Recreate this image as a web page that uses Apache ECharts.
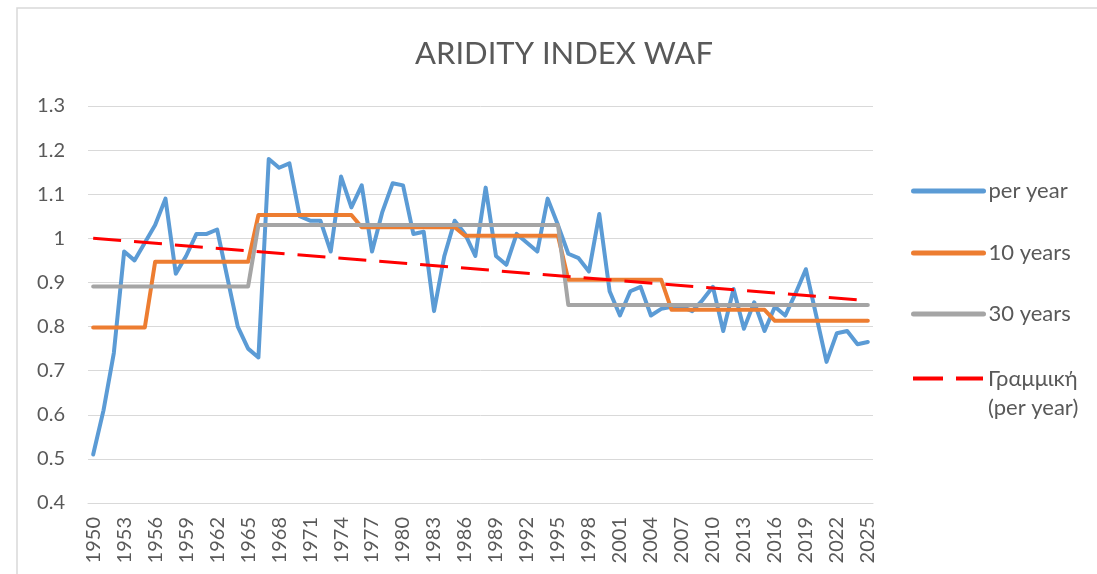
<!DOCTYPE html>
<html>
<head>
<meta charset="utf-8">
<script src="https://cdn.jsdelivr.net/npm/echarts@6/dist/echarts.min.js"></script>
<style>
  html, body { margin: 0; padding: 0; background: #fff; }
  #chart { width: 1097px; height: 574px; }
</style>
</head>
<body>
<div id="chart"></div>
<script>
// years on the category axis
const years = [
  1950, 1951, 1952, 1953, 1954, 1955, 1956, 1957, 1958, 1959,
  1960, 1961, 1962, 1963, 1964, 1965, 1966, 1967, 1968, 1969,
  1970, 1971, 1972, 1973, 1974, 1975, 1976, 1977, 1978, 1979,
  1980, 1981, 1982, 1983, 1984, 1985, 1986, 1987, 1988, 1989,
  1990, 1991, 1992, 1993, 1994, 1995, 1996, 1997, 1998, 1999,
  2000, 2001, 2002, 2003, 2004, 2005, 2006, 2007, 2008, 2009,
  2010, 2011, 2012, 2013, 2014, 2015, 2016, 2017, 2018, 2019,
  2020, 2021, 2022, 2023, 2024, 2025
]

// aridity index, one value per year
const perYear = [
  0.51, 0.61, 0.74, 0.97, 0.95, 0.99, 1.03, 1.09, 0.92, 0.96,
  1.01, 1.01, 1.02, 0.91, 0.80, 0.75, 0.73, 1.18, 1.16, 1.17,
  1.05, 1.04, 1.04, 0.97, 1.14, 1.07, 1.12, 0.97, 1.06, 1.125,
  1.12, 1.01, 1.015, 0.835, 0.96, 1.04, 1.01, 0.96, 1.115, 0.96,
  0.94, 1.01, 0.99, 0.97, 1.09, 1.03, 0.965, 0.955, 0.925, 1.055,
  0.88, 0.825, 0.88, 0.89, 0.825, 0.84, 0.845, 0.845, 0.835, 0.86,
  0.89, 0.79, 0.885, 0.795, 0.855, 0.79, 0.845, 0.825, 0.875, 0.93,
  0.825, 0.72, 0.785, 0.79, 0.76, 0.765
]

// 10-year means
const tenYears = [
  0.798, 0.798, 0.798, 0.798, 0.798, 0.798, 0.947, 0.947, 0.947, 0.947,
  0.947, 0.947, 0.947, 0.947, 0.947, 0.947, 1.053, 1.053, 1.053, 1.053,
  1.053, 1.053, 1.053, 1.053, 1.053, 1.053, 1.025, 1.025, 1.025, 1.025,
  1.025, 1.025, 1.025, 1.025, 1.025, 1.025, 1.006, 1.006, 1.006, 1.006,
  1.006, 1.006, 1.006, 1.006, 1.006, 1.006, 0.906, 0.906, 0.906, 0.906,
  0.906, 0.906, 0.906, 0.906, 0.906, 0.906, 0.838, 0.838, 0.838, 0.838,
  0.838, 0.838, 0.838, 0.838, 0.838, 0.838, 0.813, 0.813, 0.813, 0.813,
  0.813, 0.813, 0.813, 0.813, 0.813, 0.813
]

// 30-year means
const thirtyYears = [
  0.891, 0.891, 0.891, 0.891, 0.891, 0.891, 0.891, 0.891, 0.891, 0.891,
  0.891, 0.891, 0.891, 0.891, 0.891, 0.891, 1.030, 1.030, 1.030, 1.030,
  1.030, 1.030, 1.030, 1.030, 1.030, 1.030, 1.030, 1.030, 1.030, 1.030,
  1.030, 1.030, 1.030, 1.030, 1.030, 1.030, 1.030, 1.030, 1.030, 1.030,
  1.030, 1.030, 1.030, 1.030, 1.030, 1.030, 0.849, 0.849, 0.849, 0.849,
  0.849, 0.849, 0.849, 0.849, 0.849, 0.849, 0.849, 0.849, 0.849, 0.849,
  0.849, 0.849, 0.849, 0.849, 0.849, 0.849, 0.849, 0.849, 0.849, 0.849,
  0.849, 0.849, 0.849, 0.849, 0.849, 0.849
]

// linear trend of per-year values: ends only (1950, 2025)
const trendStart = 1.000
const trendEnd = 0.859
const trend = years.map((y, i) => i === 0 ? trendStart : (i === years.length - 1 ? trendEnd : null))

const FONT = 'Lato, "Open Sans", sans-serif'
const TEXT = '#595959'

const chart = echarts.init(document.getElementById('chart'), null, { renderer: 'canvas' })

const legendBase = {
  orient: 'vertical',
  left: 906,
  itemWidth: 70,
  itemHeight: 14,
  itemGap: 0,
  itemStyle: { opacity: 0 },
  lineStyle: { width: 5, cap: 'round' },
  textStyle: { color: TEXT, fontFamily: FONT, fontSize: 22, lineHeight: 22 },
  selectedMode: false
}

const option = {
  animation: false,
  backgroundColor: '#ffffff',
  title: {
    text: 'ARIDITY INDEX WAF',
    left: 410,
    top: 33,
    textStyle: { color: TEXT, fontFamily: FONT, fontSize: 31, fontWeight: 'normal' }
  },
  graphic: [
    {
      type: 'rect',
      shape: { x: 17, y: 8, width: 1200, height: 700 },
      style: { fill: 'none', stroke: '#d9d9d9', lineWidth: 1.5 },
      silent: true
    }
  ],
  legend: [
    Object.assign({}, legendBase, { top: 175, data: ['per year'] }),
    Object.assign({}, legendBase, { top: 237, data: ['10 years'] }),
    Object.assign({}, legendBase, { top: 298, data: ['30 years'] }),
    Object.assign({}, legendBase, {
      top: 330,
      data: ['Γραμμική (per year)'],
      formatter: () => '\nΓραμμική\n(per year)',
      lineStyle: { width: 4, type: [30, 13] },
      textStyle: { color: TEXT, fontFamily: FONT, fontSize: 22, lineHeight: 29 }
    })
  ],
  grid: {
    left: 88,
    right: 224,
    top: 106,
    bottom: 71,
    containLabel: false
  },
  xAxis: {
    type: 'category',
    data: years,
    boundaryGap: true,
    axisLine: { show: true, lineStyle: { color: '#d9d9d9', width: 1 } },
    axisTick: { show: false },
    splitLine: { show: false },
    axisLabel: {
      rotate: 90,
      interval: 2,
      margin: 14,
      color: TEXT,
      fontFamily: FONT,
      fontSize: 20
    }
  },
  yAxis: {
    type: 'value',
    min: 0.4,
    max: 1.3,
    interval: 0.1,
    axisLine: { show: false },
    axisTick: { show: false },
    splitLine: { show: true, lineStyle: { color: '#d9d9d9', width: 1 } },
    axisLabel: {
      margin: 23,
      color: TEXT,
      fontFamily: FONT,
      fontSize: 20
    }
  },
  series: [
    {
      name: 'per year',
      type: 'line',
      data: perYear,
      symbol: 'none',
      lineStyle: { color: '#5b9bd5', width: 4, cap: 'round', join: 'round' },
      itemStyle: { color: '#5b9bd5' },
      z: 2
    },
    {
      name: '10 years',
      type: 'line',
      data: tenYears,
      symbol: 'none',
      lineStyle: { color: '#ed7d31', width: 4, cap: 'round', join: 'round' },
      itemStyle: { color: '#ed7d31' },
      z: 3
    },
    {
      name: '30 years',
      type: 'line',
      data: thirtyYears,
      symbol: 'none',
      lineStyle: { color: '#a5a5a5', width: 4, cap: 'round', join: 'round' },
      itemStyle: { color: '#a5a5a5' },
      z: 4
    },
    {
      name: 'Γραμμική (per year)',
      type: 'line',
      data: trend,
      connectNulls: true,
      symbol: 'none',
      lineStyle: { color: '#ff0000', width: 3, type: [28, 13] },
      itemStyle: { color: '#ff0000' },
      z: 5
    }
  ]
}

chart.setOption(option)
</script>
</body>
</html>
